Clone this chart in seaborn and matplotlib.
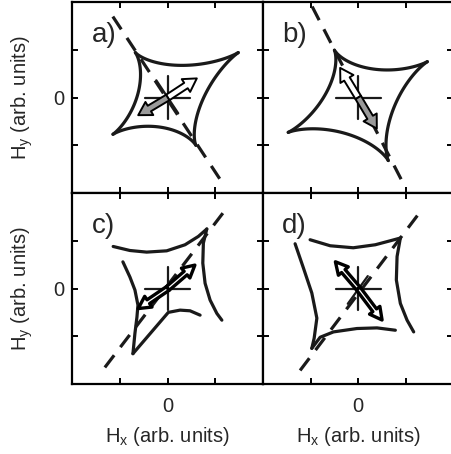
import numpy as np
import seaborn as sns
import matplotlib.pyplot as plt
from matplotlib.patches import FancyArrowPatch

sns.set_style('ticks')
plt.rcParams['font.family'] = ['Liberation Sans', 'DejaVu Sans']
plt.rcParams['mathtext.fontset'] = 'custom'
plt.rcParams['mathtext.rm'] = 'Liberation Sans'
plt.rcParams['mathtext.it'] = 'Liberation Sans:italic'

# switching astroids of panels a and b, cusps TL, TR, BR, BL (arb. units)
cusps_a = [(-0.68, 0.94), (1.48, 0.94), (0.59, -1.00), (-1.15, -0.77)]
cusps_b = [(-0.50, 0.99), (1.45, 0.75), (0.63, -1.32), (-1.47, -0.73)]

# broken astroid branches of panels c and d
c_top = [(-1.146, 0.880), (-0.795, 0.796), (-0.443, 0.762), (-0.022, 0.789), (0.363, 0.916), (0.643, 1.091), (0.820, 1.246)]
c_right = [(0.820, 1.246), (0.748, 0.952), (0.736, 0.531), (0.784, 0.109), (0.889, -0.242), (1.031, -0.522), (1.136, -0.663)]
c_left = [(-0.942, 0.558), (-0.795, 0.242), (-0.689, -0.032), (-0.626, -0.347), (-0.647, -0.600), (-0.689, -0.937), (-0.731, -1.365)]
c_bottom = [(-0.731, -1.365), (0.012, -0.500), (0.258, -0.453), (0.468, -0.467), (0.679, -0.558)]

d_top = [(-1.011, 1.021), (-0.589, 0.895), (-0.105, 0.853), (0.358, 0.916), (0.674, 1.000), (0.884, 1.057)]
d_right = [(0.884, 1.057), (0.815, 0.669), (0.800, 0.179), (0.884, -0.312), (1.025, -0.663), (1.164, -0.909)]
d_left = [(-1.326, 0.937), (-1.152, 0.432), (-0.975, -0.095), (-0.869, -0.621), (-0.926, -1.042), (-0.975, -1.253)]
d_bottom = [(-0.975, -1.253), (-0.800, -1.021), (-0.520, -0.909), (-0.027, -0.838), (0.394, -0.825), (0.779, -0.874)]

# easy-axis dashed lines
easy_a = [(-1.153, 1.695), (1.142, -1.779)]
easy_b = [(-0.968, 1.905), (0.989, -1.884)]
easy_c = [(-1.321, -1.653), (1.247, 1.695)]
easy_d = [(-1.221, -1.716), (1.305, 1.611)]

# short diagonal strokes of the star symbol
star_a = [(-0.24, 0.36), (0.22, -0.33)]
star_d = [(-0.22, -0.32), (0.20, 0.26)]

# magnetisation arrows: (tip, fill colour)
arrows_a = [((0.61, 0.40), 'white'), ((-0.62, -0.37), '#9a9a9a')]
arrows_b = [((-0.38, 0.62), 'white'), ((0.39, -0.65), '#9a9a9a')]
arrows_c = [((0.57, 0.49), 'white'), ((-0.62, -0.42), 'white')]
arrows_d = [((-0.48, 0.56), 'white'), ((0.50, -0.66), 'white')]

labels = ['a)', 'b)', 'c)', 'd)']

W, H = 452, 454
fig = plt.figure(figsize=(W / 100, H / 100), dpi=100)


def px_axes(x0, y0, x1, y1):
    return fig.add_axes([x0 / W, 1 - y1 / H, (x1 - x0) / W, (y1 - y0) / H])


axes = [px_axes(72.5, 2, 263, 193), px_axes(263, 2, 453.5, 193),
        px_axes(72.5, 193, 263, 384), px_axes(263, 193, 453.5, 384)]

lc = '#1a1a1a'


def draw_path(ax, pts, **kw):
    pts = np.array(pts)
    sns.lineplot(x=pts[:, 0], y=pts[:, 1], sort=False, estimator=None, ax=ax,
                 color=lc, lw=kw.pop('lw', 2.3), **kw)


def draw_astroid(ax, cusps):
    c = np.array(cusps)
    o = c.mean(axis=0)
    t = np.linspace(0, np.pi / 2, 60)
    for i in range(4):
        a, b = c[i] - o, c[(i + 1) % 4] - o
        pts = o + np.outer(np.cos(t) ** 3, a) + np.outer(np.sin(t) ** 3, b)
        draw_path(ax, pts, solid_capstyle='round')


def draw_star(ax, diag):
    draw_path(ax, [(-0.47, 0), (0.47, 0)], lw=1.6)
    draw_path(ax, [(0, -0.46), (0, 0.46)], lw=1.6)
    if diag is not None:
        draw_path(ax, diag, lw=1.6)


def draw_arrows(ax, arrows, heavy):
    for tip, fc in arrows:
        if heavy:
            style = 'simple,head_length=0.8,head_width=0.85,tail_width=0.3'
        else:
            style = 'simple,head_length=0.85,head_width=1.0,tail_width=0.42'
        ar = FancyArrowPatch((0, 0), tip, arrowstyle=style, mutation_scale=11,
                             fc=fc, ec='black', lw=2.4 if heavy else 1.4,
                             shrinkA=0, shrinkB=0, zorder=5)
        ax.add_patch(ar)


panels = [
    (cusps_a, None, easy_a, star_a, arrows_a, False),
    (cusps_b, None, easy_b, None, arrows_b, False),
    (None, [c_top, c_right, c_left, c_bottom], easy_c, None, arrows_c, True),
    (None, [d_top, d_right, d_left, d_bottom], easy_d, star_d, arrows_d, True),
]

for i, (ax, (cusps, branches, easy, diag, arrows, heavy)) in enumerate(zip(axes, panels)):
    draw_path(ax, easy, linestyle=(0, (4.8, 3.2)), lw=2.3)
    if cusps is not None:
        draw_astroid(ax, cusps)
    else:
        for br in branches:
            draw_path(ax, br, solid_capstyle='round')
    draw_star(ax, diag)
    draw_arrows(ax, arrows, heavy)

    ax.set_xlim(-2, 2)
    ax.set_ylim(-2, 2)
    ax.set_xticks([-1, 0, 1])
    ax.set_yticks([-1, 0, 1])
    ax.set_xticklabels(['', '0', ''] if i >= 2 else [])
    ax.set_yticklabels(['', '0', ''] if i % 2 == 0 else [])
    ax.tick_params(direction='in', length=4.5, width=1.4, top=True, right=True,
                   labelsize=14.5, color='black')
    ax.tick_params(axis='x', pad=9)
    ax.tick_params(axis='y', pad=6)
    for sp in ax.spines.values():
        sp.set_linewidth(1.6)
        sp.set_color('black')
    ax.text(0.1, 0.79, labels[i], transform=ax.transAxes, fontsize=20,
            va='baseline', ha='left')
    if i % 2 == 0:
        ax.set_ylabel(r'H$_\mathrm{y}$ (arb. units)', fontsize=14.5, va='center')
        ax.yaxis.set_label_coords(-0.265, 0.5)
    if i >= 2:
        ax.set_xlabel(r'H$_\mathrm{x}$ (arb. units)', fontsize=14.5, va='center')
        ax.xaxis.set_label_coords(0.5, -0.277)

fig.savefig('out.png', dpi=100)
